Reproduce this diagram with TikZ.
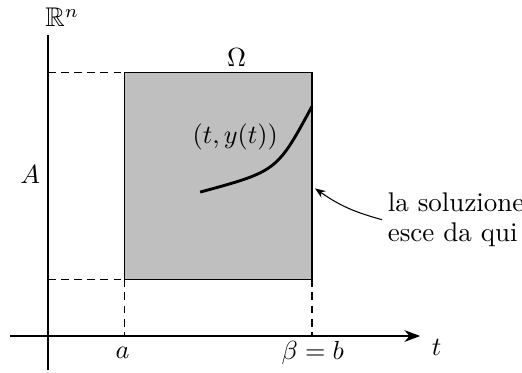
\documentclass[tikz,border=0pt]{standalone}
\usepackage{amsmath}
\usepackage{amssymb}
\usepackage{tikz}
\usetikzlibrary{arrows.meta, positioning}

\begin{document}
\begin{tikzpicture}[
    every node/.style={font=\fontsize{10.3}{11.4}\selectfont},
    dashline/.style={thin, dash pattern=on 3pt off 2pt},
    thickline/.style={line width=1.1pt},
    axis/.style={thin, -{Stealth[length=6pt,width=4.5pt]}},
    note/.style={thin, -{Stealth[length=4pt,width=3pt]}}
]
    \useasboundingbox (-0.644,-0.483) rectangle (6.356,4.506);

    % Points
    \coordinate (O) at (0,0);
    \coordinate (xs) at (-0.51,0);
    \coordinate (xe) at (4.99,0);
    \coordinate (ys) at (0,-0.46);
    \coordinate (ye) at (0,4.04);
    \coordinate (a) at (1.02,0);
    \coordinate (b) at (3.54,0);
    \coordinate (Alo) at (0,0.76);
    \coordinate (Ahi) at (0,3.54);
    \coordinate (sw) at (1.02,0.76);
    \coordinate (se) at (3.54,0.76);
    \coordinate (nw) at (1.02,3.54);
    \coordinate (ne) at (3.54,3.54);

    % Omega
    \fill[gray!50] (sw) rectangle (ne);
    \draw[thin] (sw) -- (se) -- (ne) -- (nw) -- cycle;

    % Dashed projections
    \draw[dashline] (Ahi) -- (nw);
    \draw[dashline] (Alo) -- (sw);
    \draw[dashline] (sw) -- (a);
    \draw[dashline] (se) -- (b);

    % Axes
    \draw[axis] (xs) -- (xe);
    \draw[thin] (ys) -- (ye);

    % A and [a,b]
    \draw[thickline] (Alo) -- (Ahi);
    \draw[thickline] (a) -- (b);

    % Solution
    \coordinate (y0) at (2.04,1.93);
    \coordinate (yc) at (3.07,2.21);
    \coordinate (y1) at (3.54,3.08);
    \draw[thickline] (y0) .. controls (yc) and (yc) .. (y1);

    % Labels
    \node (Rn) at (0.19,4.27) {$\mathbb{R}^n$};
    \node (om) at (2.53,3.73) {$\Omega$};
    \node (sol) at (2.51,2.67) {$(t,y(t))$};
    \node (Alab) at (-0.24,2.16) {$A$};
    \node (alab) at (1.0,-0.23) {$a$};
    \node (blab) at (3.55,-0.23) {$\beta=b$};
    \node (tlab) at (5.21,-0.15) {$t$};

    % Annotation
    \node[align=left, anchor=west, inner sep=2pt] (esce) at (4.48,1.56) {la soluzione\\esce da qui};
    \coordinate (exit) at (3.58,1.98);
    \draw[note] (esce.west) to[bend left=10] (exit);

\end{tikzpicture}
\end{document}
